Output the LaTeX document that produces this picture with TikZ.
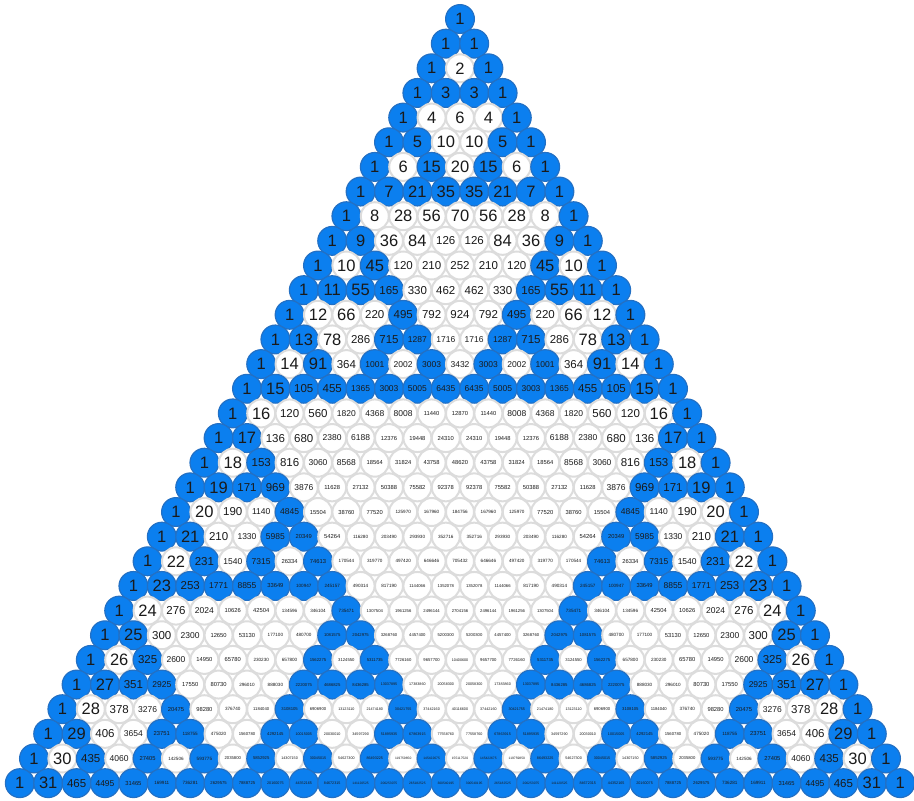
\documentclass[tikz,border=0pt]{standalone}
\usepackage{fontspec}
\setmainfont{Liberation Sans}
\definecolor{oddfill}{HTML}{0B7FEF}
\definecolor{oddline}{HTML}{2370C4}
\definecolor{evenline}{HTML}{DCDCDC}
\definecolor{numtext}{HTML}{1A1A1A}
\tikzset{
  cell/.style={circle, inner sep=0pt, text=numtext},
  oddcell/.style={cell, minimum size=28.8pt, fill=oddfill, draw=oddline, line width=1.2pt},
  evencell/.style={cell, minimum size=28pt, fill=white, draw=evenline, line width=2pt},
}
\newcommand\pickfs[1]{%
  \ifnum#1<100 \def\cellfs{16.5}\else
  \ifnum#1<1000 \def\cellfs{11.5}\else
  \ifnum#1<10000 \def\cellfs{8.5}\else
  \ifnum#1<100000 \def\cellfs{5.8}\else
  \ifnum#1<1000000 \def\cellfs{4.6}\else
  \ifnum#1<10000000 \def\cellfs{4.2}\else
  \ifnum#1<100000000 \def\cellfs{3.7}\else
  \def\cellfs{3.3}\fi\fi\fi\fi\fi\fi\fi}
\begin{document}
\begin{tikzpicture}[x=1pt,y=-1pt]
\useasboundingbox (0,0) rectangle (914,801);
\foreach \r in {0,...,31}{
  \foreach \k in {0,...,\r}{
    \ifnum\k=0 \xdef\v{1}\else\ifnum\k=\r\relax \xdef\v{1}\else
      \xdef\v{\the\numexpr\csname pv\the\numexpr\r-1\relax-\the\numexpr\k-1\relax\endcsname+\csname pv\the\numexpr\r-1\relax-\k\endcsname\relax}%
    \fi\fi
    \expandafter\xdef\csname pv\r-\k\endcsname{\v}%
    \pickfs{\v}%
    \ifodd\v\relax \def\cellstyle{oddcell}\else\def\cellstyle{evencell}\fi
    \node[\cellstyle] (n\r-\k) at ({460+28.4*(\k-\r/2)}, {19+24.65*\r}) {\fontsize{\cellfs}{\cellfs}\selectfont\v};
  }
}
\end{tikzpicture}
\end{document}
